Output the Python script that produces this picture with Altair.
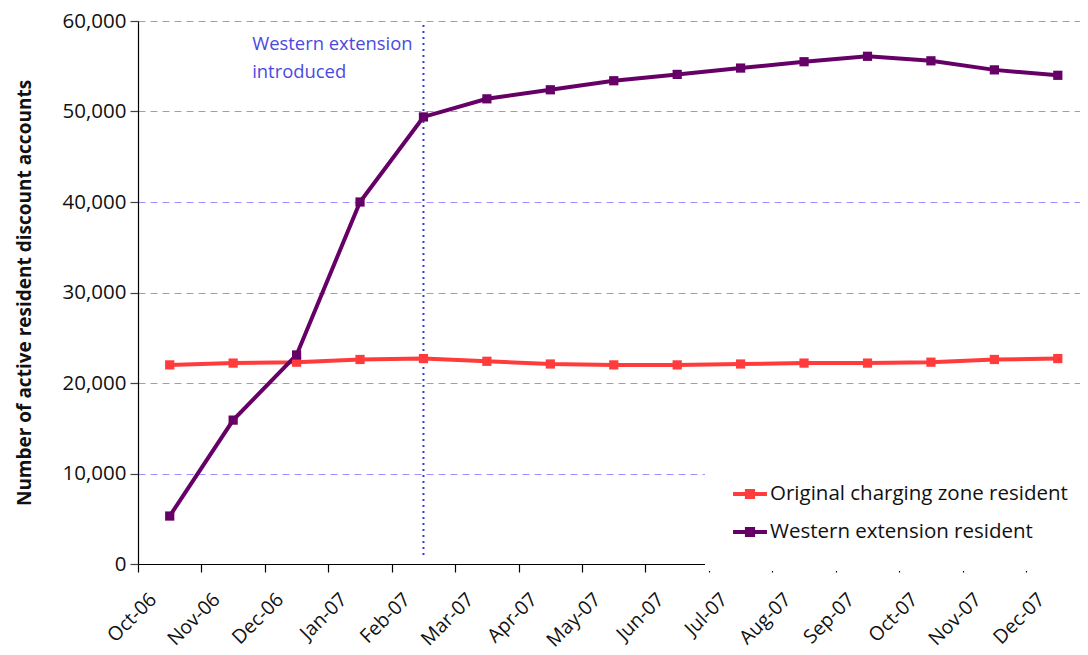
import altair as alt
import pandas as pd

months = ["Oct-06", "Nov-06", "Dec-06", "Jan-07", "Feb-07", "Mar-07", "Apr-07", "May-07",
          "Jun-07", "Jul-07", "Aug-07", "Sep-07", "Oct-07", "Nov-07", "Dec-07"]
original = [22000, 22200, 22300, 22600, 22700, 22400, 22100, 22000, 22000, 22100,
            22200, 22200, 22300, 22600, 22700]
western = [5300, 15900, 23100, 40000, 49400, 51400, 52400, 53400, 54100, 54800,
           55500, 56100, 55600, 54600, 54000]
series_names = ["Original charging zone resident", "Western extension resident"]
series_colors = ["#ff3b3b", "#660066"]

rows = []
for i, m in enumerate(months):
    rows.append({"pos": i + 0.5, "month": m, "series": series_names[0], "value": original[i]})
    rows.append({"pos": i + 0.5, "month": m, "series": series_names[1], "value": western[i]})
df = pd.DataFrame(rows)

event_pos = [4.5]
event_top = [60000]
event_bottom = [1000]
note_pos = [1.8]
note_val = [57500]
note_text = [["Western extension", "introduced"]]

FONT = "Open Sans"
month_arr = "[" + ",".join("'" + m + "'" for m in months) + "]"

x_scale = alt.Scale(domain=[0, 14.85], nice=False, zero=False)
y_scale = alt.Scale(domain=[0, 60000], nice=False)

color = alt.Color(
    "series:N",
    scale=alt.Scale(domain=series_names, range=series_colors),
    legend=alt.Legend(
        title=None,
        orient="none",
        legendX=567,
        legendY=428,
        fillColor="white",
        padding=28,
        labelFont=FONT,
        labelFontSize=20.5,
        labelColor="#111111",
        labelLimit=400,
        symbolType="M-1,-0.12H1V0.12H-1Z M-0.3,-0.3H0.3V0.3H-0.3Z",
        symbolSize=1150,
        symbolStrokeWidth=0,
        symbolOpacity=1,
        rowPadding=10,
        labelOffset=3,
    ),
)

x_enc = alt.X(
    "pos:Q",
    scale=x_scale,
    axis=alt.Axis(
        title=None,
        values=list(range(15)),
        labelExpr=month_arr + "[datum.value]",
        labelAngle=-45,
        labelAlign="right",
        labelBaseline="middle",
        labelOffset=15,
        labelPadding=24,
        labelFont=FONT,
        labelFontSize=19.5,
        labelColor="#111111",
        grid=False,
        domainColor="#000000",
        tickColor="#000000",
        tickSize=8,
        labelOverlap=False,
        labelBound=False,
        labelFlush=False,
    ),
)

y_enc = alt.Y(
    "value:Q",
    scale=y_scale,
    axis=alt.Axis(
        title="Number of active resident discount accounts",
        titleFont=FONT,
        titleFontSize=19,
        titleFontWeight="bold",
        titleColor="#111111",
        titlePadding=28,
        values=[0, 10000, 20000, 30000, 40000, 50000, 60000],
        format=",d",
        labelFont=FONT,
        labelFontSize=20.5,
        labelColor="#111111",
        labelPadding=4,
        tickSize=8,
        tickColor="#444444",
        domainColor="#000000",
        grid=True,
        gridColor="#a98cff",
        gridDash=[7, 5],
        gridWidth=1,
    ),
)

lines = alt.Chart(df).mark_line(strokeWidth=4).encode(x=x_enc, y=y_enc, color=color)
points = alt.Chart(df).mark_point(shape="square", filled=True, size=85, opacity=1).encode(
    x="pos:Q", y="value:Q", color=color
)

ev_df = pd.DataFrame({"pos": event_pos, "top": event_top, "bottom": event_bottom})
event = alt.Chart(ev_df).mark_rule(color="#3a3ad8", strokeWidth=2, strokeDash=[2, 4]).encode(
    x="pos:Q", y="bottom:Q", y2="top:Q"
)

note_df = pd.DataFrame({"pos": note_pos, "val": note_val, "text": note_text})
note = alt.Chart(note_df).mark_text(
    align="left", baseline="middle", font=FONT, fontSize=18.4, color="#4a4ae0", lineHeight=28
).encode(x="pos:Q", y="val:Q", text="text")

chart = alt.layer(event, lines, points, note).properties(
    width=942,
    height=543,
    autosize=alt.AutoSizeParams(type="none"),
    padding={"left": 130, "top": 13, "right": 0, "bottom": 88},
).configure_view(stroke=None).configure_axis(domainWidth=1.2, tickWidth=1.2)

chart.save("out.html", embed_options={"renderer": "svg", "actions": False})
